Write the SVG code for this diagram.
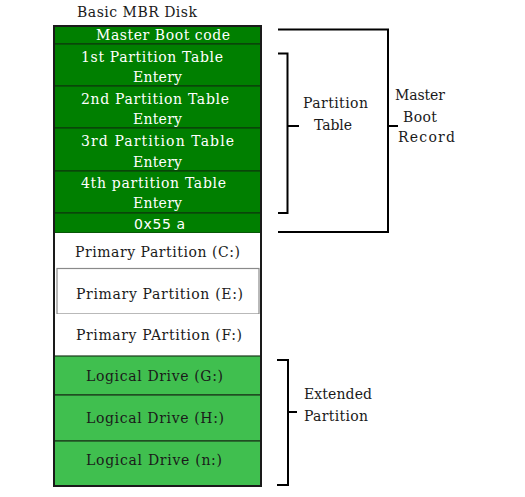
<svg xmlns="http://www.w3.org/2000/svg" width="525" height="497" viewBox="0 0 525 497">
<style>
.t{font-family:"DejaVu Serif","Liberation Serif",serif;font-size:14px}
.w{fill:#ffffff}
.k{fill:#1a1a1a}
.dg{fill:#007f00;stroke:#0d3d0d;stroke-width:1.2}
.lg{fill:#40bf4f;stroke:#1c3a1c;stroke-width:1.2}
.br{fill:none;stroke:#000;stroke-width:2}
</style>
<rect width="525" height="497" fill="#ffffff"/>
<text class="t k" x="77" y="17" textLength="120" lengthAdjust="spacing">Basic MBR Disk</text>
<g id="disk">
<g id="mbc"><rect class="dg" x="54" y="26" width="207" height="18"/><text class="t w" x="96" y="40" textLength="134" lengthAdjust="spacing">Master Boot code</text></g>
<g id="pte1"><rect class="dg" x="54" y="44" width="207" height="42"/><text class="t w" x="81" y="62" textLength="142" lengthAdjust="spacing">1st Partition Table</text><text class="t w" x="133" y="82" textLength="49" lengthAdjust="spacing">Entery</text></g>
<g id="pte2"><rect class="dg" x="54" y="86" width="207" height="42"/><text class="t w" x="81" y="104" textLength="148" lengthAdjust="spacing">2nd Partition Table</text><text class="t w" x="133" y="124" textLength="49" lengthAdjust="spacing">Entery</text></g>
<g id="pte3"><rect class="dg" x="54" y="128" width="207" height="43"/><text class="t w" x="81" y="146" textLength="153" lengthAdjust="spacing">3rd Partition  Table</text><text class="t w" x="133" y="167" textLength="49" lengthAdjust="spacing">Entery</text></g>
<g id="pte4"><rect class="dg" x="54" y="171" width="207" height="42"/><text class="t w" x="81" y="188" textLength="145" lengthAdjust="spacing">4th partition Table</text><text class="t w" x="133" y="208" textLength="49" lengthAdjust="spacing">Entery</text></g>
<g id="sig"><rect class="dg" x="54" y="213" width="207" height="20"/><text x="134" y="229" font-family="'DejaVu Sans','Liberation Sans',sans-serif" font-size="14" fill="#ffffff" textLength="51" lengthAdjust="spacing">0x55 a</text></g>
<g id="pc"><rect x="54" y="233" width="207" height="35" fill="#ffffff"/><text class="t k" x="75" y="257" textLength="165" lengthAdjust="spacing">Primary Partition (C:)</text></g>
<g id="pe"><rect x="57" y="268.5" width="202" height="45.5" fill="#ffffff" stroke="#8a8a8a" stroke-width="1.2"/><text class="t k" x="76" y="299" textLength="167" lengthAdjust="spacing">Primary Partition (E:)</text></g>
<g id="pf"><rect x="54" y="314" width="207" height="42" fill="#ffffff"/><text class="t k" x="76" y="340" textLength="166" lengthAdjust="spacing">Primary PArtition (F:)</text></g>
<g id="lg"><rect class="lg" x="54" y="356" width="207" height="39"/><text class="t k" x="86" y="381" textLength="137" lengthAdjust="spacing">Logical Drive (G:)</text></g>
<g id="lh"><rect class="lg" x="54" y="395" width="207" height="46"/><text class="t k" x="86" y="423" textLength="138" lengthAdjust="spacing">Logical Drive (H:)</text></g>
<g id="ln"><rect class="lg" x="54" y="441" width="207" height="45"/><text class="t k" x="86" y="465" textLength="136" lengthAdjust="spacing">Logical Drive (n:)</text></g>
<rect x="54" y="26" width="207" height="460" fill="none" stroke="#1a1a1a" stroke-width="2"/>
</g>
<g id="connectors">
<path class="br" d="M278 29.5 H388 V232 H278 M388 126 H398"/>
<path class="br" d="M278 53.5 H287.5 V213 H278 M287.5 126 H299"/>
<path class="br" d="M277 360 H288 V485 H277 M288 412 H297"/>
</g>
<g id="labels">
<text class="t k" x="303" y="108" textLength="65" lengthAdjust="spacing">Partition</text>
<text class="t k" x="314" y="130" textLength="38" lengthAdjust="spacing">Table</text>
<text class="t k" x="395" y="100" textLength="50" lengthAdjust="spacing">Master</text>
<text class="t k" x="403" y="122" textLength="34" lengthAdjust="spacing">Boot</text>
<text class="t k" x="398" y="142" textLength="57" lengthAdjust="spacing">Record</text>
<text class="t k" x="304" y="399" textLength="68" lengthAdjust="spacing">Extended</text>
<text class="t k" x="304" y="421" textLength="64" lengthAdjust="spacing">Partition</text>
</g>
</svg>
